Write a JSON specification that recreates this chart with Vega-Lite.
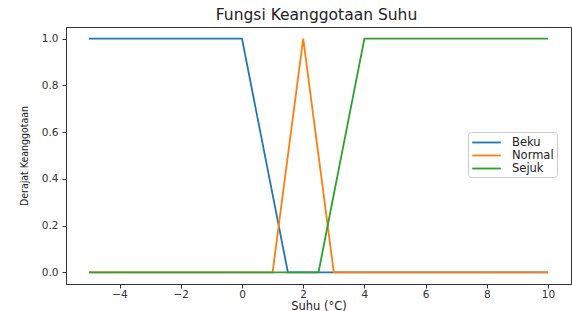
{
  "$schema": "https://vega.github.io/schema/vega-lite/v6.json",
  "autosize": "none",
  "width": 505,
  "height": 257,
  "padding": {"left": 66, "top": 27, "right": 1, "bottom": 27},
  "background": "white",
  "title": {"text": "Fungsi Keanggotaan Suhu", "font": "DejaVu Sans", "fontSize": 15.5, "fontWeight": "normal", "color": "#222", "offset": 4, "anchor": "middle", "dx": -2},
  "config": {
    "view": {"stroke": "#333", "strokeWidth": 1},
    "axis": {"grid": false, "labelFont": "DejaVu Sans", "labelFontSize": 10.5, "labelColor": "#333", "titleFont": "DejaVu Sans", "titleFontSize": 11.5, "titleFontWeight": "normal", "titleColor": "#222", "domainColor": "#333", "tickColor": "#333", "tickSize": 4}
  },
  "data": {"values": [
    {"x": -5, "y": 1, "s": "Beku", "o": 0},
    {"x": 0, "y": 1, "s": "Beku", "o": 1},
    {"x": 1.5, "y": 0, "s": "Beku", "o": 2},
    {"x": 10, "y": 0, "s": "Beku", "o": 3},
    {"x": -5, "y": 0, "s": "Normal", "o": 0},
    {"x": 1, "y": 0, "s": "Normal", "o": 1},
    {"x": 2, "y": 1, "s": "Normal", "o": 2},
    {"x": 3, "y": 0, "s": "Normal", "o": 3},
    {"x": 10, "y": 0, "s": "Normal", "o": 4},
    {"x": -5, "y": 0, "s": "Sejuk", "o": 0},
    {"x": 2.5, "y": 0, "s": "Sejuk", "o": 1},
    {"x": 4, "y": 1, "s": "Sejuk", "o": 2},
    {"x": 10, "y": 1, "s": "Sejuk", "o": 3}
  ]},
  "mark": {"type": "line", "strokeWidth": 1.8},
  "encoding": {
    "x": {"field": "x", "type": "quantitative", "title": "Suhu (°C)",
      "scale": {"domain": [-5.75, 10.75], "nice": false, "zero": false},
      "axis": {"values": [-4, -2, 0, 2, 4, 6, 8, 10], "labelExpr": "replace(datum.label, '-', '−')", "titlePadding": 1, "labelPadding": 1}},
    "y": {"field": "y", "type": "quantitative", "title": "Derajat Keanggotaan",
      "scale": {"domain": [-0.05, 1.05], "nice": false, "zero": false},
      "axis": {"values": [0, 0.2, 0.4, 0.6, 0.8, 1.0], "format": ".1f", "labelPadding": 4, "titleFont": "DejaVu Sans Condensed", "titleFontSize": 10.5, "titlePadding": 12}},
    "color": {"field": "s", "type": "nominal", "title": null,
      "scale": {"domain": ["Beku", "Normal", "Sejuk"], "range": ["#1f77b4", "#ff7f0e", "#2ca02c"]},
      "legend": {"orient": "none", "legendX": 402, "legendY": 105, "symbolType": "M-2.2,0H2.2", "symbolStrokeWidth": 1.8, "symbolSize": 169, "symbolOffset": 8, "labelOffset": 18, "labelFont": "DejaVu Sans", "labelFontSize": 11.5, "labelColor": "#222", "fillColor": "white", "strokeColor": "#ccc", "cornerRadius": 3, "padding": 3, "rowPadding": 0}},
    "order": {"field": "o", "type": "quantitative"}
  }
}
